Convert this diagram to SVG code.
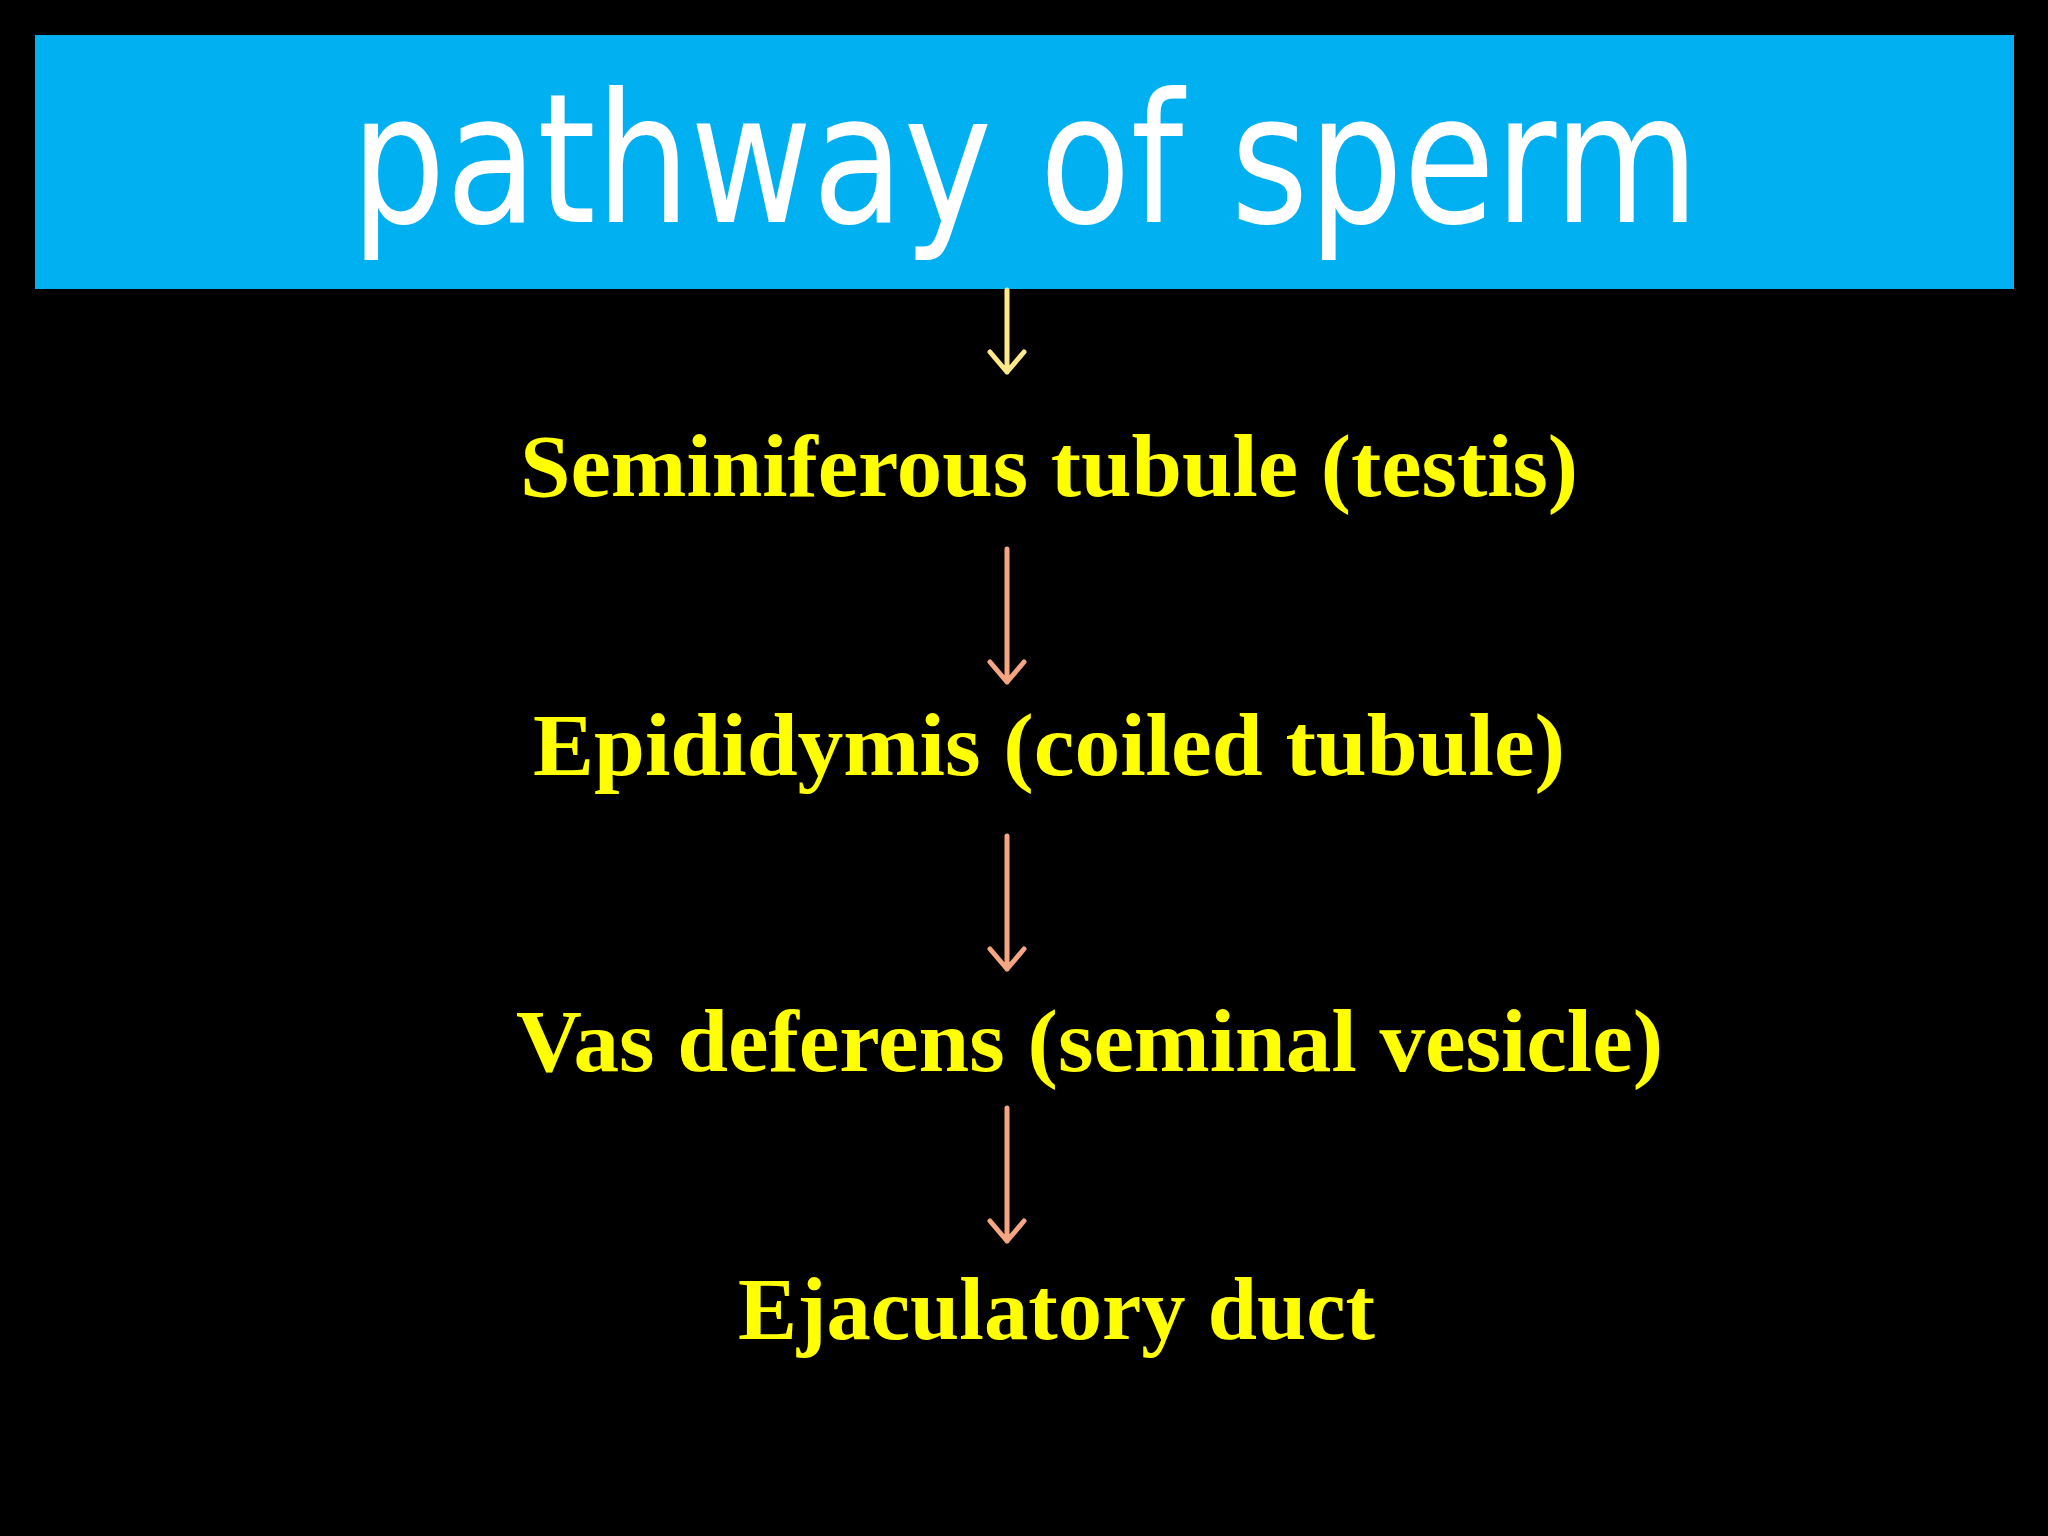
<svg xmlns="http://www.w3.org/2000/svg" width="2048" height="1536" viewBox="0 0 2048 1536">
<defs>
<style>
.lbl{font-family:"Liberation Serif","Times New Roman",serif;font-weight:bold;font-size:88px;fill:#ffff00}
.conn{stroke-width:5;fill:none;stroke-linecap:round;stroke-linejoin:round}
</style>
</defs>
<rect width="2048" height="1536" fill="#000"/>
<g id="title">
<rect x="35" y="35" width="1979" height="254" fill="#00b0f0"/>
<text x="1025" y="222" text-anchor="middle" font-family="'DejaVu Sans',sans-serif" font-size="180" fill="#fff" textLength="1348" lengthAdjust="spacingAndGlyphs">pathway of sperm</text>
</g>
<g id="connectors">
<g class="conn" stroke="#ffe88a"><path d="M1007 290V372M990 352L1007 372L1024 352"/></g>
<g class="conn" stroke="#f4a582">
<path d="M1007 549V682M990 662L1007 682L1024 662"/>
<path d="M1007 836V969M990 949L1007 969L1024 949"/>
<path d="M1007 1108V1241M990 1221L1007 1241L1024 1221"/>
</g>
</g>
<g id="n1"><text class="lbl" x="520" y="496" textLength="1058" lengthAdjust="spacingAndGlyphs">Seminiferous tubule (testis)</text></g>
<g id="n2"><text class="lbl" x="533" y="775" textLength="1032" lengthAdjust="spacingAndGlyphs">Epididymis (coiled tubule)</text></g>
<g id="n3"><text class="lbl" x="516" y="1071" textLength="1147" lengthAdjust="spacingAndGlyphs">Vas deferens (seminal vesicle)</text></g>
<g id="n4"><text class="lbl" x="738" y="1339" textLength="637" lengthAdjust="spacingAndGlyphs">Ejaculatory duct</text></g>
</svg>
